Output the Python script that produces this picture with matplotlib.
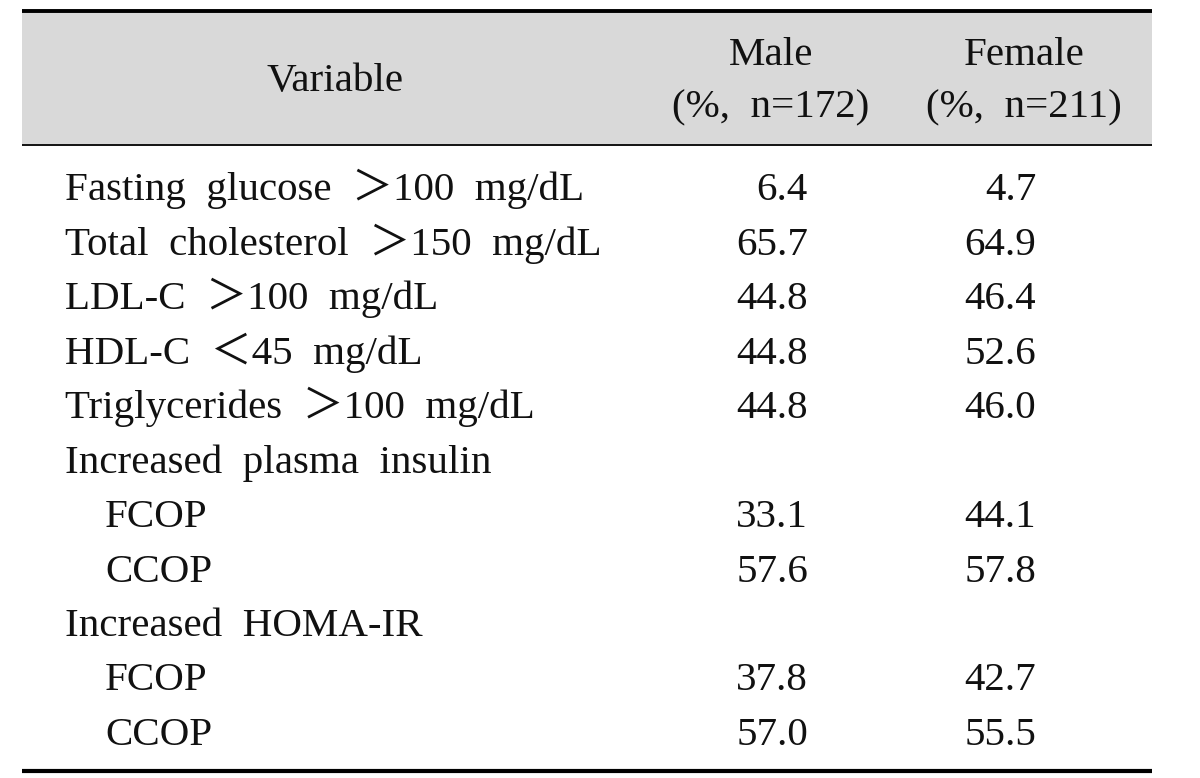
import matplotlib
matplotlib.use("Agg")
import matplotlib.pyplot as plt

variables = [
    "Fasting  glucose  ＞100  mg/dL",
    "Total  cholesterol  ＞150  mg/dL",
    "LDL-C  ＞100  mg/dL",
    "HDL-C  ＜45  mg/dL",
    "Triglycerides  ＞100  mg/dL",
    "Increased  plasma  insulin",
    "FCOP",
    "CCOP",
    "Increased  HOMA-IR",
    "FCOP",
    "CCOP",
]
indent = [0, 0, 0, 0, 0, 0, 1, 1, 0, 1, 1]
male = ["6.4", "65.7", "44.8", "44.8", "44.8", "", "33.1", "57.6", "", "37.8", "57.0"]
female = ["4.7", "64.9", "46.4", "52.6", "46.0", "", "44.1", "57.8", "", "42.7", "55.5"]
header_var = "Variable"
header_groups = ["Male", "Female"]
header_sub = ["(%,  n=172)", "(%,  n=211)"]

W, H = 1200, 778
fig = plt.figure(figsize=(W / 100, H / 100), dpi=100)
ax = fig.add_axes([0, 0, 1, 1])
ax.set_xlim(0, W)
ax.set_ylim(H, 0)
ax.axis("off")

font = dict(family=["Liberation Serif", "Noto Sans CJK SC"], fontsize=29.5, color="#111111")

x0, x1 = 22, 1152
# header background
ax.add_patch(plt.Rectangle((x0, 11), x1 - x0, 133, color="#d9d9d9", lw=0))
ax.plot([x0, x1], [10.5, 10.5], color="black", lw=2.8, solid_capstyle="butt")
ax.plot([x0, x1], [144.5, 144.5], color="black", lw=1.3, solid_capstyle="butt")
ax.plot([x0, x1], [771, 771], color="black", lw=3.0, solid_capstyle="butt")

ax.text(335, 91, header_var, ha="center", va="baseline", **font)
for cx, g, s in zip([771, 1024], header_groups, header_sub):
    ax.text(cx, 65, g, ha="center", va="baseline", **font)
    ax.text(cx, 117, s, ha="center", va="baseline", **font)

y_start, dy = 200, 54.5
for i, (lab, ind, m, f) in enumerate(zip(variables, indent, male, female)):
    y = y_start + i * dy
    ax.text(65 + 40 * ind, y, lab, ha="left", va="baseline", **font)
    if m:
        ax.text(808, y, m, ha="right", va="baseline", **font)
    if f:
        ax.text(1036, y, f, ha="right", va="baseline", **font)

fig.savefig("out.png", dpi=100, facecolor="white")
